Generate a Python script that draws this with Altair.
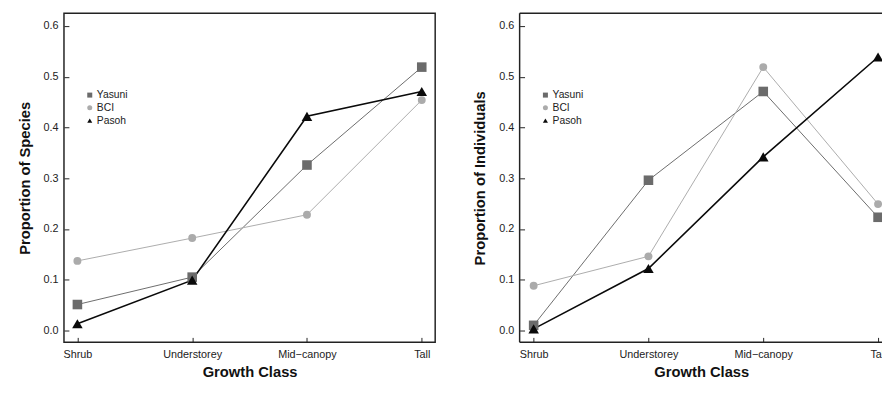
import altair as alt
import pandas as pd

classes = ["Shrub", "Understorey", "Mid\u2212canopy", "Tall"]
sites = ["Yasuni", "BCI", "Pasoh"]

# Proportion of species
sp_yasuni = [0.051, 0.105, 0.326, 0.519]
sp_bci = [0.137, 0.182, 0.228, 0.454]
sp_pasoh = [0.013, 0.099, 0.422, 0.471]

# Proportion of individuals
ind_yasuni = [0.010, 0.296, 0.471, 0.223]
ind_bci = [0.088, 0.146, 0.519, 0.249]
ind_pasoh = [0.003, 0.122, 0.342, 0.539]

y_ticks = [0.0, 0.1, 0.2, 0.3, 0.4, 0.5, 0.6]

point_colors = ["#6b6b6b", "#ababab", "#0a0a0a"]
shapes = ["square", "circle", "triangle-up"]


def make_df(series):
    rows = []
    for site, vals in zip(sites, series):
        for c, v in zip(classes, vals):
            rows.append({"site": site, "cls": c, "value": v})
    return pd.DataFrame(rows)


FONT = "Liberation Sans"
PLOT_H = 335


def panel(df, ytitle, width, pad, align, frame_rules):
    legend = alt.Legend(
        orient="none", legendX=21, legendY=78, title=None, padding=0,
        symbolSize=26, symbolStrokeWidth=0, labelFontSize=10.5, labelFont=FONT,
        labelColor="#222", labelOffset=2, rowPadding=2, symbolOffset=0,
    )
    x = alt.X(
        "cls:N", sort=classes,
        scale=alt.Scale(domain=classes, padding=pad, align=align),
        axis=alt.Axis(
            title="Growth Class", labelAngle=0, offset=-5, tickSize=5, domain=False,
            grid=False, labelPadding=6, titlePadding=6, tickColor="#222",
            labelFontSize=11, labelFont=FONT, labelColor="#222",
            titleFontSize=15, titleFont=FONT, titleFontWeight="bold", titleColor="#111",
        ),
    )
    y = alt.Y(
        "value:Q",
        scale=alt.Scale(domain=[-0.0235, 0.625], nice=False, zero=False),
        axis=alt.Axis(
            title=ytitle, values=y_ticks, format=".1f", offset=-5, tickSize=5,
            domain=False, grid=False, labelPadding=6, titlePadding=11, tickColor="#222",
            labelFontSize=11, labelFont=FONT, labelColor="#222",
            titleFontSize=15, titleFont=FONT, titleFontWeight="bold", titleColor="#111",
        ),
    )
    color = alt.Color("site:N", scale=alt.Scale(domain=sites, range=point_colors), legend=legend)
    base = alt.Chart(df)
    lines = base.mark_line().encode(
        x=x, y=y, color=color,
        strokeWidth=alt.when(alt.datum.site == "Pasoh").then(alt.value(1.6)).otherwise(alt.value(1.0)),
    )
    points = base.mark_point(filled=True, opacity=1).encode(
        x=x, y=y, color=color,
        shape=alt.Shape("site:N", scale=alt.Scale(domain=sites, range=shapes), legend=legend),
        size=alt.when(alt.datum.site == "BCI").then(alt.value(65))
        .when(alt.datum.site == "Pasoh").then(alt.value(115))
        .otherwise(alt.value(95)),
    )
    layers = [lines, points]
    if frame_rules:
        one = alt.Chart(pd.DataFrame({"k": [0]}))
        top = one.mark_rule(color="#222", strokeWidth=1.5).encode(
            x=alt.value(0), x2=alt.value(width), y=alt.value(0))
        left = one.mark_rule(color="#222", strokeWidth=1.5).encode(
            x=alt.value(0), y=alt.value(0), y2=alt.value(PLOT_H))
        bottom = one.mark_rule(color="#222", strokeWidth=1.5).encode(
            x=alt.value(0), x2=alt.value(width), y=alt.value(PLOT_H))
        layers = [top, left, bottom] + layers
        ch = alt.layer(*layers).properties(width=width, height=PLOT_H)
    else:
        ch = alt.layer(*layers).properties(
            width=width, height=PLOT_H,
            view=alt.ViewBackground(stroke="#222", strokeWidth=1.5),
        )
    return ch


left = panel(make_df([sp_yasuni, sp_bci, sp_pasoh]), "Proportion of Species", 378, 0.117, 0.5, False)
right = panel(make_df([ind_yasuni, ind_bci, ind_pasoh]), "Proportion of Individuals", 370, 0.0825, 0.74, True)

chart = (
    alt.hconcat(left, right, spacing=37)
    .resolve_legend(color="independent", shape="independent")
    .resolve_scale(color="independent", shape="independent")
    .properties(padding={"left": 8, "top": 1, "right": -5, "bottom": 0}, background="white")
    .configure_view(stroke=None)
)

chart.save("out.html", embed_options={"renderer": "svg", "actions": False})
